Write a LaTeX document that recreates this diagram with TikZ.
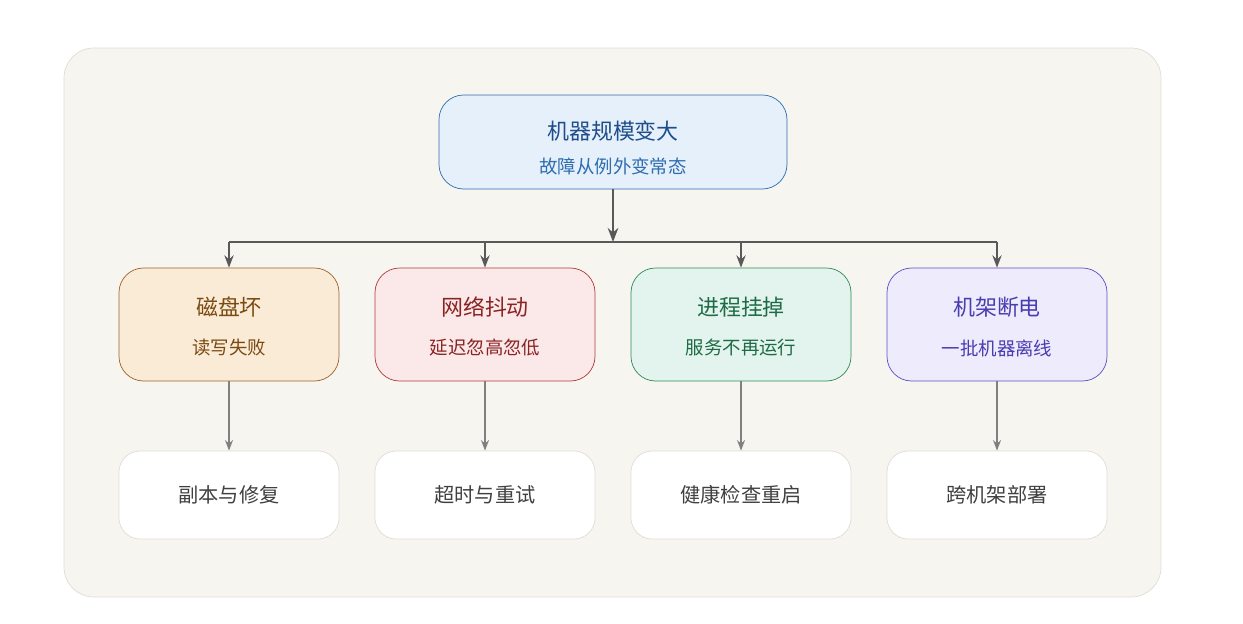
\documentclass[tikz,border=0pt]{standalone}
\usepackage{fontspec}
\setmainfont{Noto Sans CJK SC}
\usetikzlibrary{arrows.meta}
\definecolor{panelbg}{HTML}{F7F5F0}
\definecolor{panelline}{HTML}{E0DDD5}
\definecolor{topfill}{HTML}{E6F0FA}
\definecolor{topline}{HTML}{2E6DB0}
\definecolor{toptext}{HTML}{1F4E8C}
\definecolor{orfill}{HTML}{FAEBD7}
\definecolor{orline}{HTML}{A0622A}
\definecolor{ortext}{HTML}{7A4A12}
\definecolor{rdfill}{HTML}{FBE9E9}
\definecolor{rdline}{HTML}{B03A3A}
\definecolor{rdtext}{HTML}{8B2323}
\definecolor{gnfill}{HTML}{E3F4EE}
\definecolor{gnline}{HTML}{2E8B57}
\definecolor{gntext}{HTML}{1E6B45}
\definecolor{pufill}{HTML}{EDEBFC}
\definecolor{puline}{HTML}{5B4FC7}
\definecolor{putext}{HTML}{4A3DB0}
\tikzset{
  fault/.style={draw, rounded corners=14pt, minimum width=220*0.02cm, minimum height=113*0.02cm, inner sep=0pt},
  fix/.style={draw=panelline, fill=white, rounded corners=12pt, minimum width=220*0.02cm, minimum height=88*0.02cm, text=black!75, font=\fontsize{11.5}{14}\selectfont},
  bigtxt/.style={font=\fontsize{12.5}{15}\selectfont},
  smalltxt/.style={font=\fontsize{10.5}{13}\selectfont}
}
\begin{document}
\begin{tikzpicture}[x=0.02cm, y=-0.02cm]
\useasboundingbox (0,0) rectangle (1243,623);
\draw[panelline, fill=panelbg, rounded corners=17pt] (64,48) rectangle (1161,597);

% top box
\node[draw=topline, fill=topfill, rounded corners=14pt, minimum width=348*0.02cm, minimum height=94*0.02cm] (top) at (613,142) {};
\node[bigtxt, text=toptext] at (613,131) {机器规模变大};
\node[smalltxt, text=topline] at (613,166) {故障从例外变常态};

% fault row
\foreach \x/\c/\t/\s/\n in {229/or/磁盘坏/读写失败/a, 485/rd/网络抖动/延迟忽高忽低/b, 741/gn/进程挂掉/服务不再运行/c, 997/pu/机架断电/一批机器离线/d}{
  \node[fault, draw=\c line, fill=\c fill] (f\n) at (\x,324.5) {};
  \node[bigtxt, text=\c text] at (\x,307) {\t};
  \node[smalltxt, text=\c text] at (\x,348) {\s};
  \coordinate (j\n) at (\x,242);
}
% fix row
\node[fix] (ga) at (229,495) {副本与修复};
\node[fix] (gb) at (485,495) {超时与重试};
\node[fix] (gc) at (741,495) {健康检查重启};
\node[fix] (gd) at (997,495) {跨机架部署};

\coordinate (mid) at (613,242);
\draw[black!65, line width=1.4pt, -{Stealth[length=8pt]}] (top) -- (mid);
\draw[black!65, line width=1.4pt] (ja) -- (jd);
\foreach \n in {a,b,c,d}{
  \draw[black!65, line width=1.4pt, -{Stealth[length=7pt]}] (j\n) -- (f\n);
  \draw[black!50, line width=0.9pt, -{Stealth[length=6pt]}] (f\n) -- (g\n);
}
\end{tikzpicture}
\end{document}
